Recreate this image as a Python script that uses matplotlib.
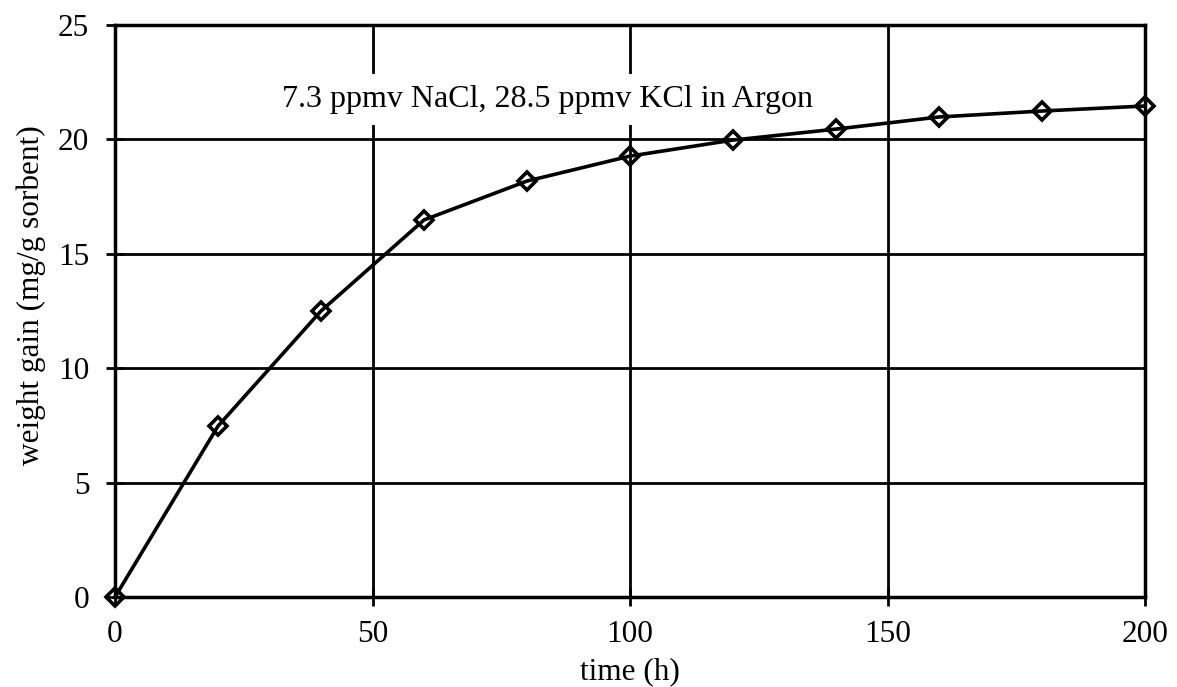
import matplotlib
matplotlib.use('Agg')
import matplotlib.pyplot as plt

plt.rcParams['font.family'] = ['Liberation Serif', 'DejaVu Serif']

time_h = [0, 20, 40, 60, 80, 100, 120, 140, 160, 180, 200]
weight_gain = [0, 7.47, 12.5, 16.48, 18.18, 19.27, 19.97, 20.45, 20.98, 21.24, 21.46]
x_ticks = [0, 50, 100, 150, 200]
y_ticks = [0, 5, 10, 15, 20, 25]
note = '7.3 ppmv NaCl, 28.5 ppmv KCl in Argon'

fig = plt.figure(figsize=(11.77, 6.87), dpi=100)
ax = fig.add_axes([115 / 1177, 1 - 597 / 687, 1030 / 1177, 572 / 687])

ax.plot(time_h, weight_gain, color='black', lw=2.6, marker='D', ms=9,
        mfc='none', mec='black', mew=2.6, clip_on=False, zorder=3)

ax.set_xlim(0, 200)
ax.set_ylim(0, 25)
ax.set_xticks(x_ticks)
ax.set_yticks(y_ticks)
ax.grid(True, color='black', lw=2)
for s in ax.spines.values():
    s.set_linewidth(2.5)
ax.tick_params(direction='inout', length=13, width=2, labelsize=22.5)
ax.tick_params(axis='x', pad=10)
ax.tick_params(axis='y', pad=12)

ax.set_xlabel('time (h)', fontsize=22.5)
ax.xaxis.set_label_coords(0.5, -0.105)
ax.set_ylabel('weight gain (mg/g sorbent)', fontsize=22.5)
ax.yaxis.set_label_coords(-0.067, 0.528)

ax.text(84, 21.75, note, fontsize=23, ha='center', va='center',
        bbox=dict(facecolor='white', edgecolor='none', pad=8), zorder=4)

fig.savefig('out.png', dpi=100)
